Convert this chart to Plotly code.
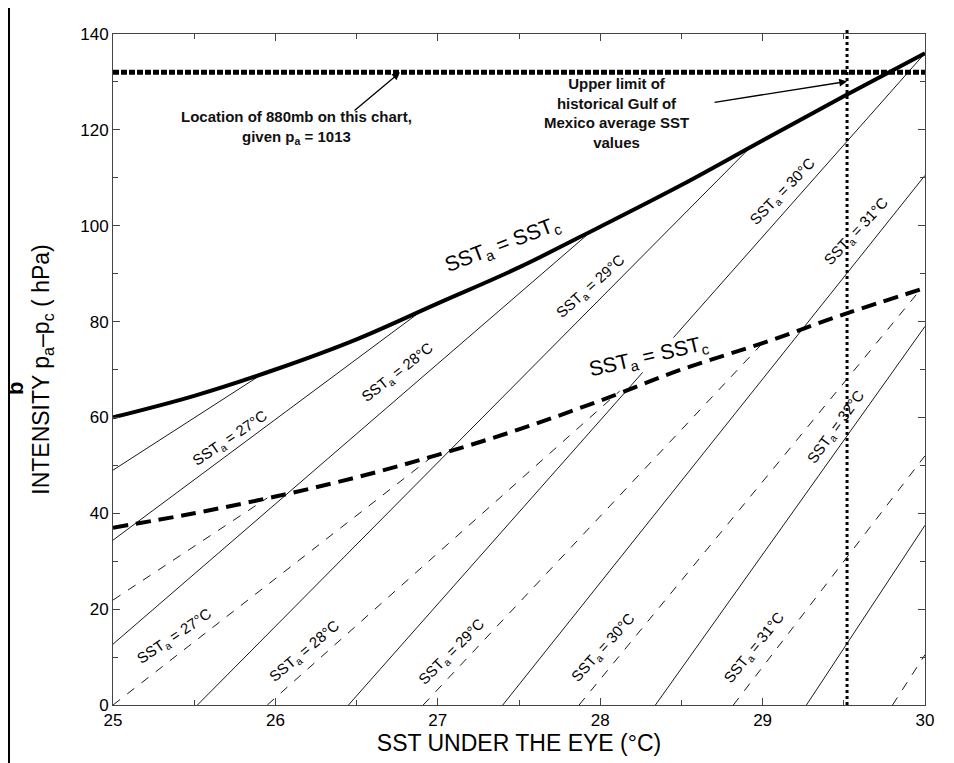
import plotly.graph_objects as go

# ---------------- data ----------------
# thick curves: SST_a = SST_c (solid: upper family, dashed: lower family)
curve_x = [25.0, 25.5, 26.0, 26.5, 27.0, 27.5, 28.0, 28.5, 29.0, 29.5, 30.0]
curve_solid_y = [60.0, 64.5, 70.0, 76.3, 83.8, 91.3, 99.8, 108.5, 117.8, 127.0, 136.0]
curve_dashed_y = [37.0, 40.0, 43.5, 47.5, 52.2, 57.5, 63.5, 70.0, 75.5, 81.5, 87.0]

# thin solid isotherms (start -> end)
solid_x0 = [25.0, 25.0, 25.0, 25.52, 26.45, 27.40, 28.34, 29.27]
solid_y0 = [49.0, 34.4, 12.7, 0.0, 0.0, 0.0, 0.0, 0.0]
solid_x1 = [25.93, 26.91, 27.94, 28.94, 30.0, 30.0, 30.0, 30.0]
solid_y1 = [69.3, 82.5, 98.7, 116.9, 136.0, 110.5, 79.0, 37.5]

# thin dashed isotherms (start -> end)
dashed_x0 = [25.0, 25.0, 25.95, 26.91, 27.87, 28.82, 29.80]
dashed_y0 = [21.9, 0.0, 0.0, 0.0, 0.0, 0.0, 0.0]
dashed_x1 = [25.95, 26.98, 28.12, 29.0, 29.97, 30.0, 30.0]
dashed_y1 = [43.2, 52.2, 65.5, 75.5, 86.6, 52.0, 10.5]

# reference lines
p880_intensity = 132.0      # location of 880 mb
gulf_sst_limit = 29.52      # upper limit of historical Gulf of Mexico SST

# isotherm labels
upper_label_text = ["27°C", "28°C", "29°C", "30°C", "31°C"]
upper_label_x = [25.72, 26.755, 27.943, 29.126, 29.58]
upper_label_y = [55.7, 69.3, 87.3, 107.1, 98.7]
upper_label_angle = [34, 38, 42, 46, 47]

lower_label_text = ["27°C", "28°C", "29°C", "30°C", "31°C", "32°C"]
lower_label_x = [25.38, 26.18, 27.09, 28.02, 28.95, 29.45]
lower_label_y = [14.2, 11.1, 11.1, 12.1, 12.1, 58.0]
lower_label_angle = [34, 40, 45, 48, 51, 54]

x_ticks = [25, 26, 27, 28, 29, 30]
y_ticks = [0, 20, 40, 60, 80, 100, 120, 140]

# ---------------- figure ----------------
fig = go.Figure()

for x0, y0, x1, y1 in zip(solid_x0, solid_y0, solid_x1, solid_y1):
    fig.add_trace(go.Scatter(x=[x0, x1], y=[y0, y1], mode="lines",
                             line=dict(color="#1a1a1a", width=1), hoverinfo="skip"))
for x0, y0, x1, y1 in zip(dashed_x0, dashed_y0, dashed_x1, dashed_y1):
    fig.add_trace(go.Scatter(x=[x0, x1], y=[y0, y1], mode="lines",
                             line=dict(color="#1a1a1a", width=1, dash="9px,9px"),
                             hoverinfo="skip"))

fig.add_trace(go.Scatter(x=curve_x, y=curve_solid_y, mode="lines", line_shape="spline",
                         line=dict(color="black", width=4), hoverinfo="skip"))
fig.add_trace(go.Scatter(x=curve_x, y=curve_dashed_y, mode="lines", line_shape="spline",
                         line=dict(color="black", width=4, dash="15px,8px"), hoverinfo="skip"))

# horizontal 880 mb line
fig.add_trace(go.Scatter(x=[x_ticks[0], x_ticks[-1]], y=[p880_intensity, p880_intensity],
                         mode="lines", line=dict(color="black", width=5, dash="6px,2px"),
                         hoverinfo="skip"))
# vertical Gulf SST limit
fig.add_shape(type="line", xref="x", yref="paper", x0=gulf_sst_limit, x1=gulf_sst_limit,
              y0=0, y1=1.006, line=dict(color="black", width=3, dash="3px,3px"))

# page border at the far left of the scan and a cut-off panel letter
fig.add_shape(type="line", xref="paper", yref="paper", x0=-0.1281, x1=-0.1281,
              y0=-0.09, y1=1.05, line=dict(color="black", width=2))
fig.add_annotation(xref="paper", yref="paper", x=-0.1207, y=0.4724, text="<b>b</b>",
                   showarrow=False, textangle=-90, xanchor="center", yanchor="middle",
                   font=dict(family="Liberation Sans, Arial, sans-serif", size=22, color="black"))

lab_font = dict(family="Liberation Sans, Arial, sans-serif", size=15, color="black")
for t, x, y, a in zip(upper_label_text, upper_label_x, upper_label_y, upper_label_angle):
    fig.add_annotation(x=x, y=y, text="SST<sub>a</sub> = " + t, showarrow=False,
                       textangle=-a, font=lab_font)
for t, x, y, a in zip(lower_label_text, lower_label_x, lower_label_y, lower_label_angle):
    fig.add_annotation(x=x, y=y, text="SST<sub>a</sub> = " + t, showarrow=False,
                       textangle=-a, font=lab_font)

big_font = dict(family="Liberation Sans, Arial, sans-serif", size=21, color="black")
fig.add_annotation(x=27.40, y=96.0, text="SST<sub>a</sub> = SST<sub>c</sub>", showarrow=False,
                   textangle=-21, font=big_font)
fig.add_annotation(x=28.30, y=72.6, text="SST<sub>a</sub> = SST<sub>c</sub>", showarrow=False,
                   textangle=-13, font=big_font, bgcolor="white", borderpad=0)

note_font = dict(family="Liberation Sans, Arial, sans-serif", size=15, color="#111")
fig.add_annotation(x=26.127, y=120.4, text="<b>Location of 880mb on this chart,<br>given p<sub>a</sub> = 1013</b>",
                   showarrow=False, font=note_font, align="center")
fig.add_annotation(x=28.103, y=123.6,
                   text="<b>Upper limit of<br>historical Gulf of<br>Mexico average SST<br>values</b>",
                   showarrow=False, font=note_font, align="center")
# arrows
fig.add_annotation(x=26.767, y=p880_intensity, ax=26.478, ay=123.8, axref="x", ayref="y",
                   text="", showarrow=True, arrowhead=2, arrowsize=1.2, arrowwidth=1.3,
                   arrowcolor="black")
fig.add_annotation(x=gulf_sst_limit, y=130.1, ax=28.695, ay=125.7, axref="x", ayref="y",
                   text="", showarrow=True, arrowhead=2, arrowsize=1.2, arrowwidth=1.3,
                   arrowcolor="black")

axis_font = dict(family="Liberation Sans, Arial, sans-serif", size=17, color="black")
title_font = dict(family="Liberation Sans, Arial, sans-serif", size=23, color="black")

fig.update_xaxes(range=[25, 30], tickvals=x_ticks, ticks="inside", ticklen=7,
                 tickcolor="#444", showline=True, linecolor="#444", linewidth=1,
                 mirror="ticks", showgrid=False, zeroline=False, automargin=False,
                 minor=dict(dtick=0.5, ticks="inside", ticklen=5, tickcolor="#444"),
                 tickfont=axis_font,
                 title=dict(text="SST UNDER THE EYE (°C)", font=title_font, standoff=4))
fig.update_yaxes(range=[0, 140], tickvals=y_ticks, ticks="inside", ticklen=7,
                 tickcolor="#444", showline=True, linecolor="#444", linewidth=1,
                 mirror="ticks", showgrid=False, zeroline=False, automargin=False,
                 minor=dict(dtick=10, ticks="inside", ticklen=5, tickcolor="#444"),
                 tickfont=axis_font,
                 title=dict(text="INTENSITY p<sub>a</sub>–p<sub>c</sub> ( hPa)", font=title_font,
                            standoff=24))

# the page body adds an 8 px offset, so the figure is 8 px smaller than the window
fig.update_layout(width=946, height=755, showlegend=False,
                  paper_bgcolor="white", plot_bgcolor="white",
                  margin=dict(l=105, r=29, t=26, b=58))

fig.write_html("out.html")
